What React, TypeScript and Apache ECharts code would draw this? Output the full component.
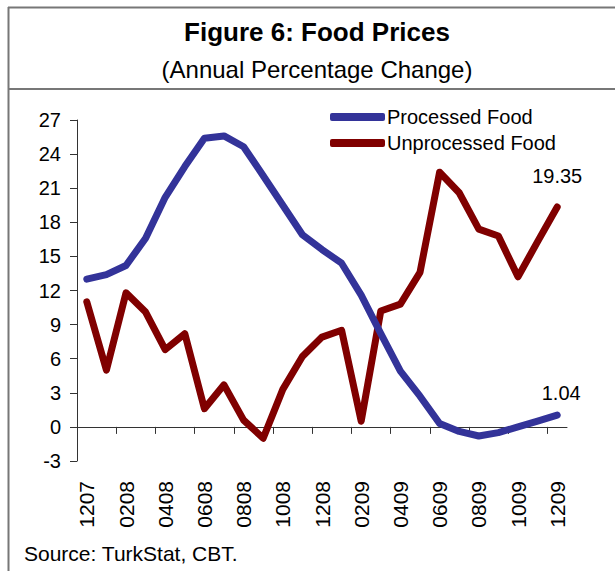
import React, { useEffect, useRef } from "react";
import * as echarts from "echarts";

const months = [
  "1207", "0108", "0208", "0308", "0408", "0508", "0608", "0708", "0808", "0908", "1008", "1108", "1208",
  "0109", "0209", "0309", "0409", "0509", "0609", "0709", "0809", "0909", "1009", "1109", "1209",
];
const processedFood = [
  13.0, 13.4, 14.2, 16.6, 20.2, 22.9, 25.4, 25.6, 24.65, 22.1, 19.5, 16.9, 15.6,
  14.4, 11.6, 8.2, 4.9, 2.7, 0.3, -0.4, -0.8, -0.5, 0.0, 0.5, 1.04,
];
const unprocessedFood = [
  11.0, 5.0, 11.8, 10.1, 6.8, 8.2, 1.6, 3.7, 0.6, -1.0, 3.3, 6.2, 7.9,
  8.5, 0.5, 10.2, 10.8, 13.6, 22.4, 20.6, 17.4, 16.8, 13.2, 16.3, 19.35,
];
const seriesNames = ["Processed Food", "Unprocessed Food"];
const titleText = "Figure 6: Food Prices";
const subtitleText = "(Annual Percentage Change)";
const sourceText = "Source: TurkStat, CBT.";

const FONT = "'Liberation Sans', Arial, sans-serif";

// category boundaries (one more than the months) for the zero-line axis ticks
const boundaries = Array.from({ length: months.length + 1 }, (_, i) => String(i));

function withEndLabel(values: number[], distance: number, dx: number) {
  return values.map((v, i) =>
    i === values.length - 1
      ? {
          value: v,
          label: {
            show: true,
            position: "top",
            distance,
            offset: [dx, 0],
            formatter: String(v),
            fontSize: 20,
            color: "#000",
            fontFamily: FONT,
          },
        }
      : v
  );
}

export default function App() {
  const ref = useRef<HTMLDivElement>(null);
  useEffect(() => {
    if (!ref.current) return;
    const chart = echarts.init(ref.current, null, { renderer: "svg" });
    const frameColor = "#777";
    chart.setOption({
      animation: false,
      backgroundColor: "#fff",
      textStyle: { fontFamily: FONT },
      grid: { left: 77, right: 48, top: 120, bottom: 110, containLabel: false },
      legend: {
        orient: "vertical",
        left: 330,
        top: 107,
        padding: 0,
        icon: "roundRect",
        itemWidth: 55,
        itemHeight: 8,
        itemGap: 6,
        data: seriesNames,
        textStyle: { fontSize: 20, color: "#000", fontFamily: FONT, padding: [0, 0, 0, -3] },
      },
      xAxis: [
        {
          type: "category",
          data: months,
          boundaryGap: true,
          position: "bottom",
          axisLine: { show: false, onZero: false },
          axisTick: { show: false },
          axisLabel: {
            interval: 1,
            rotate: 90,
            margin: 20,
            fontSize: 21,
            color: "#000",
            fontFamily: FONT,
          },
          splitLine: { show: false },
        },
        {
          type: "category",
          data: boundaries,
          boundaryGap: false,
          position: "bottom",
          axisLine: { show: true, onZero: true, lineStyle: { color: "#333", width: 1 } },
          axisTick: { show: true, interval: 1, length: 7, inside: false, lineStyle: { color: "#333" } },
          axisLabel: { show: false, interval: 1 },
          splitLine: { show: false },
        },
      ],
      yAxis: {
        type: "value",
        min: -3,
        max: 27,
        interval: 3,
        axisLine: { show: true, lineStyle: { color: "#333", width: 1 } },
        axisTick: { show: true, length: 7, lineStyle: { color: "#333" } },
        axisLabel: { fontSize: 20, color: "#000", margin: 16, fontFamily: FONT },
        splitLine: { show: false },
      },
      series: [
        {
          name: seriesNames[0],
          type: "line",
          xAxisIndex: 0,
          data: withEndLabel(processedFood, 12, 4),
          symbol: "circle",
          symbolSize: 0,
          showSymbol: true,
          showAllSymbol: true,
          color: "#333399",
          lineStyle: { width: 7, color: "#333399", cap: "round", join: "round" },
          z: 3,
        },
        {
          name: seriesNames[1],
          type: "line",
          xAxisIndex: 0,
          data: withEndLabel(unprocessedFood, 21, 0),
          symbol: "circle",
          symbolSize: 0,
          showSymbol: true,
          showAllSymbol: true,
          color: "#800000",
          lineStyle: { width: 7, color: "#800000", cap: "round", join: "round" },
          z: 2,
        },
      ],
      graphic: [
        { type: "line", shape: { x1: 8.5, y1: 7, x2: 8.5, y2: 571 }, style: { stroke: frameColor, lineWidth: 2 } },
        { type: "line", shape: { x1: 8, y1: 7.5, x2: 615, y2: 7.5 }, style: { stroke: frameColor, lineWidth: 2 } },
        { type: "line", shape: { x1: 8, y1: 89, x2: 615, y2: 89 }, style: { stroke: frameColor, lineWidth: 2 } },
        {
          type: "text",
          x: 317,
          y: 32,
          style: {
            text: titleText,
            font: `bold 26px ${FONT}`,
            fill: "#000",
            textAlign: "center",
            textVerticalAlign: "middle",
          },
        },
        {
          type: "text",
          x: 317,
          y: 69,
          style: {
            text: subtitleText,
            font: `24px ${FONT}`,
            fill: "#000",
            textAlign: "center",
            textVerticalAlign: "middle",
          },
        },
        {
          type: "text",
          x: 24,
          y: 553,
          style: {
            text: sourceText,
            font: `21px ${FONT}`,
            fill: "#000",
            textAlign: "left",
            textVerticalAlign: "middle",
          },
        },
      ],
    });
    return () => chart.dispose();
  }, []);
  return (
    <div
      ref={ref}
      style={{ position: "absolute", left: 0, top: 0, width: 615, height: 571 }}
    />
  );
}
